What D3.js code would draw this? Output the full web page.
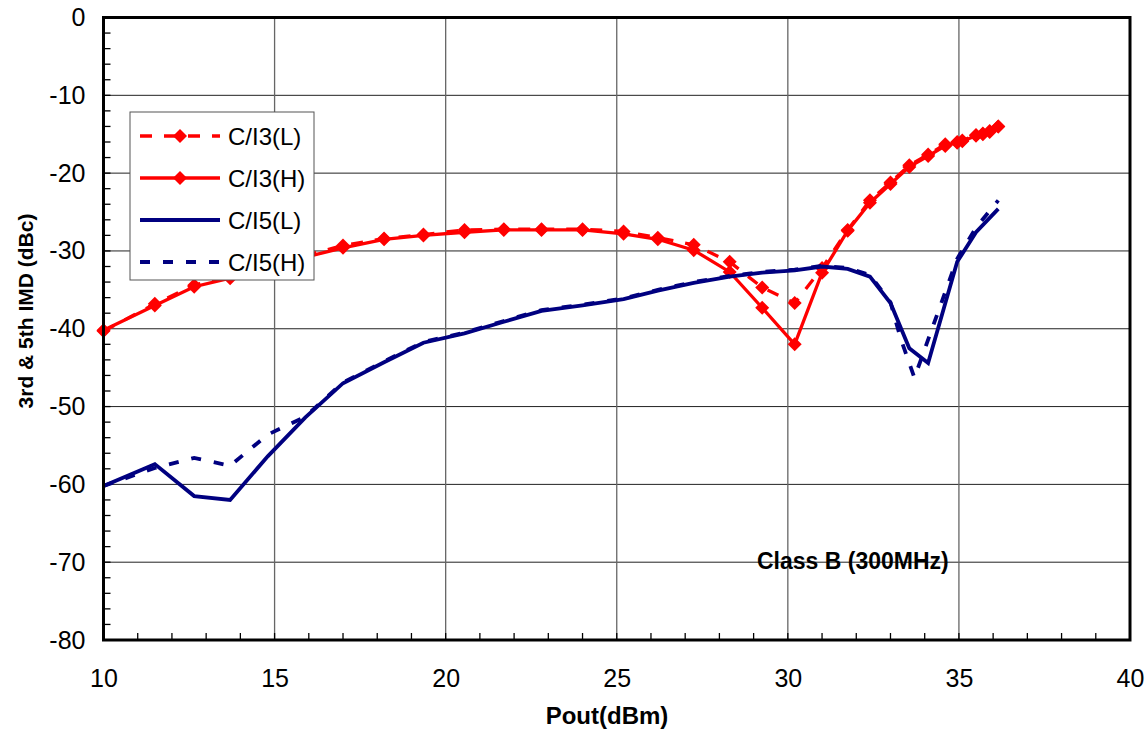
<!DOCTYPE html>
<html>
<head>
<meta charset="utf-8">
<script src="https://cdn.jsdelivr.net/npm/d3@7"></script>
<style>
  body { margin: 0; background: #fff; }
  svg { display: block; font-family: "Liberation Sans", Arial, sans-serif; }
</style>
</head>
<body>
<svg id="chart"></svg>
<script>
// Pout (dBm) sample points
const xI3 = [10, 11.5, 12.65, 13.7, 14.8, 15.9, 17.0, 18.2, 19.35, 20.55, 21.7, 22.8, 24.0, 25.2, 26.2, 27.25,
  28.3, 29.25, 30.2, 31.0, 31.75, 32.4, 33.0, 33.55, 34.1, 34.6, 34.95, 35.1, 35.5, 35.7, 35.9, 36.15];
const ci3L = [-40.3, -36.8, -34.4, -33.3, -31.9, -30.6, -29.3, -28.4, -27.9, -27.3, -27.2, -27.2, -27.2, -27.5, -28.3, -29.2,
  -31.4, -34.7, -36.7, -32.2, -27.3, -23.5, -21.2, -19.0, -17.6, -16.3, -16.0, -15.8, -15.1, -14.9, -14.6, -14.0];
const ci3H = [-40.2, -37.0, -34.6, -33.5, -32.0, -30.8, -29.6, -28.5, -28.0, -27.6, -27.3, -27.3, -27.3, -27.8, -28.5, -29.9,
  -32.7, -37.3, -42.0, -32.8, -27.4, -23.8, -21.4, -19.2, -17.8, -16.5, -16.1, -15.9, -15.2, -15.0, -14.7, -14.0];

const xI5L = [10, 11.5, 12.65, 13.7, 14.8, 15.9, 17.0, 18.2, 19.35, 20.55, 21.7, 22.8, 24.0, 25.2, 26.2, 27.25,
  28.3, 29.25, 30.2, 31.0, 31.75, 32.4, 33.0, 33.55, 34.1, 34.95, 35.5, 36.15];
const ci5L = [-60.2, -57.4, -61.5, -62.0, -56.4, -51.4, -47.0, -44.3, -41.8, -40.6, -39.1, -37.7, -37.0, -36.2, -35.1, -34.1,
  -33.3, -32.8, -32.5, -32.0, -32.3, -33.3, -36.7, -42.5, -44.4, -31.4, -27.6, -24.6];

const xI5H = [10, 11.5, 12.65, 13.7, 14.8, 15.9, 17.0, 18.2, 19.35, 20.55, 21.7, 22.8, 24.0, 25.2, 26.2, 27.25,
  28.3, 29.25, 30.2, 31.0, 31.75, 32.4, 33.0, 33.3, 33.7, 34.95, 35.5, 36.15];
const ci5H = [-60.2, -57.9, -56.6, -57.6, -53.6, -51.3, -46.9, -44.2, -41.7, -40.5, -39.0, -37.6, -36.9, -36.1, -35.0, -34.0,
  -33.2, -32.7, -32.4, -31.9, -32.2, -33.1, -36.6, -41.3, -46.3, -31.0, -27.0, -23.5];

const xTicks = [10, 15, 20, 25, 30, 35, 40];
const yTicks = [0, -10, -20, -30, -40, -50, -60, -70, -80];

const series = [
  { name: 'C/I3(L)', x: xI3, y: ci3L, color: '#ff0000', dash: '12,12', marker: true },
  { name: 'C/I3(H)', x: xI3, y: ci3H, color: '#ff0000', dash: null, marker: true },
  { name: 'C/I5(L)', x: xI5L, y: ci5L, color: '#000080', dash: null, marker: false },
  { name: 'C/I5(H)', x: xI5H, y: ci5H, color: '#000080', dash: '10,13', marker: false }
];

let width = 1148;
let height = 731;
let margin = { top: 17.5, right: 18, bottom: 91, left: 103.5 };
let innerWidth = width - margin.left - margin.right;
let innerHeight = height - margin.top - margin.bottom;

let svg = d3.select('#chart').attr('width', width).attr('height', height);
let focus = svg.append('g').attr('transform', `translate(${margin.left}, ${margin.top})`);

let xScale = d3.scaleLinear().domain([10, 40]).range([0, innerWidth]);
let yScale = d3.scaleLinear().domain([-80, 0]).range([innerHeight, 0]);

// grid
focus.append('g').selectAll('line').data(yTicks).enter().append('line')
  .attr('x1', 0).attr('x2', innerWidth)
  .attr('y1', d => yScale(d)).attr('y2', d => yScale(d))
  .attr('stroke', '#222').attr('stroke-width', 1);
focus.append('g').selectAll('line').data(xTicks).enter().append('line')
  .attr('y1', 0).attr('y2', innerHeight)
  .attr('x1', d => xScale(d)).attr('x2', d => xScale(d))
  .attr('stroke', '#666').attr('stroke-width', 1.3);

// minor ticks inside
focus.append('g').selectAll('line').data(d3.range(-80, 0.1, 2)).enter().append('line')
  .attr('x1', 0).attr('x2', 7)
  .attr('y1', d => yScale(d)).attr('y2', d => yScale(d))
  .attr('stroke', '#000').attr('stroke-width', 1.3);
focus.append('g').selectAll('line').data(d3.range(10, 40.1, 1)).enter().append('line')
  .attr('y1', innerHeight).attr('y2', innerHeight - 7)
  .attr('x1', d => xScale(d)).attr('x2', d => xScale(d))
  .attr('stroke', '#000').attr('stroke-width', 1.3);

// axis labels
let xAxis = d3.axisBottom(xScale).tickValues(xTicks).tickSize(0).tickPadding(29);
let xAxisLayer = focus.append('g').attr('transform', `translate(0, ${innerHeight})`).call(xAxis);
let yAxis = d3.axisLeft(yScale).tickValues(yTicks).tickSize(0).tickPadding(18).tickFormat(d => d === 0 ? '0' : '-' + Math.abs(d));
let yAxisLayer = focus.append('g').call(yAxis);
[xAxisLayer, yAxisLayer].forEach(l => {
  l.attr('font-size', 25).attr('font-family', '"Liberation Sans", Arial, sans-serif');
  l.select('.domain').remove();
  l.selectAll('text').attr('fill', '#000');
});

// series
let line = d3.line().x(d => xScale(d[0])).y(d => yScale(d[1]));
let diamond = 'M0,-7L7,0L0,7L-7,0Z';

series.forEach(s => {
  let pts = s.x.map((x, i) => [x, s.y[i]]);
  focus.append('path').datum(pts)
    .attr('d', line)
    .attr('fill', 'none')
    .attr('stroke', s.color)
    .attr('stroke-width', s.color === '#000080' ? 3.8 : 3.3)
    .attr('stroke-dasharray', s.dash)
    .attr('stroke-linejoin', 'miter');
  if (s.marker) {
    focus.append('g').selectAll('path').data(pts).enter().append('path')
      .attr('d', diamond)
      .attr('transform', d => `translate(${xScale(d[0])}, ${yScale(d[1])})`)
      .attr('fill', s.color);
  }
});

// frame
focus.append('rect')
  .attr('width', innerWidth).attr('height', innerHeight)
  .attr('fill', 'none').attr('stroke', '#000').attr('stroke-width', 3);

// legend
let legend = svg.append('g').attr('transform', 'translate(130, 112)');
legend.append('rect').attr('width', 184).attr('height', 168)
  .attr('fill', '#fff').attr('stroke', '#555').attr('stroke-width', 1);
series.forEach((s, i) => {
  let y = 24 + i * 42;
  legend.append('line')
    .attr('x1', 10).attr('x2', 90).attr('y1', y).attr('y2', y)
    .attr('stroke', s.color).attr('stroke-width', s.color === '#000080' ? 3.8 : 3.3)
    .attr('stroke-dasharray', s.dash);
  if (s.marker) {
    legend.append('path').attr('d', diamond).attr('transform', `translate(50, ${y})`).attr('fill', s.color);
  }
  legend.append('text').attr('x', 98).attr('y', y + 9)
    .attr('font-size', 24).attr('fill', '#000').text(s.name);
});

// annotation
svg.append('text').attr('x', 757).attr('y', 569)
  .attr('font-size', 23).attr('font-weight', 'bold').text('Class B (300MHz)');

// axis titles
svg.append('text').attr('x', 607).attr('y', 724).attr('text-anchor', 'middle')
  .attr('font-size', 24).attr('font-weight', 'bold').text('Pout(dBm)');
svg.append('text').attr('transform', 'translate(33, 311) rotate(-90)').attr('text-anchor', 'middle')
  .attr('font-size', 21).attr('font-weight', 'bold').text('3rd & 5th IMD (dBc)');
</script>
</body>
</html>
